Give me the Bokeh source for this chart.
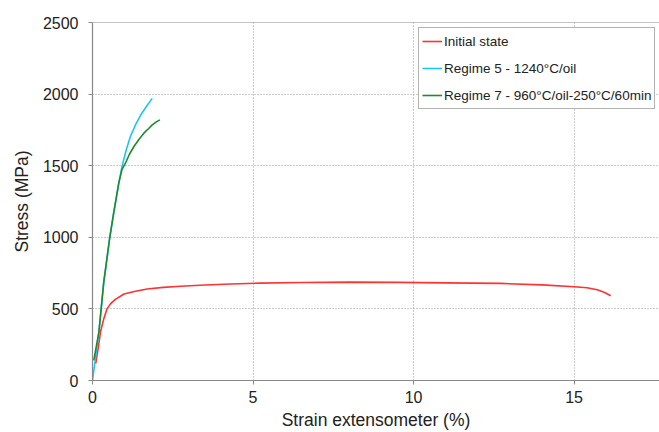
from bokeh.plotting import figure
from bokeh.models import Span, Legend, LegendItem, FixedTicker, Range1d
from bokeh.embed import file_html
from bokeh.resources import INLINE

# Initial state
red_x = [0.1, 0.18, 0.25, 0.35, 0.45, 0.56, 0.7, 0.98, 1.3, 1.7, 2.2, 2.74, 3.5, 4.3, 5.2,
         6.5, 8.0, 9.5, 11.0, 12.7, 14.0, 15.0, 15.4, 15.72, 15.95, 16.14]
red_y = [118, 230, 340, 430, 500, 535, 565, 604, 622, 639, 650, 658, 667, 674, 680,
         684, 687, 685, 682, 678, 668, 655, 648, 634, 615, 592]

# Regime 5 - 1240°C/oil
cyan_x = [0.0, 0.1, 0.2, 0.35, 0.54, 0.66, 0.82, 0.92, 1.05, 1.18, 1.35, 1.5, 1.7, 1.86]
cyan_y = [0, 170, 340, 685, 1002, 1171, 1380, 1495, 1610, 1704, 1790, 1854, 1920, 1970]

# Regime 7 - 960°C/oil-250°C/60min
green_x = [0.04, 0.2, 0.35, 0.54, 0.66, 0.82, 0.92, 1.03, 1.15, 1.29, 1.45, 1.6, 1.75, 1.86, 2.0, 2.1]
green_y = [141, 340, 685, 1002, 1171, 1380, 1475, 1519, 1580, 1634, 1685, 1727, 1760, 1785, 1808, 1820]

x_ticks = [0, 5, 10, 15]
y_ticks = [0, 500, 1000, 1500, 2000, 2500]
labels = ["Initial state", "Regime 5 - 1240°C/oil", "Regime 7 - 960°C/oil-250°C/60min"]
colors = ["#ff3333", "#19c8f0", "#1f8a2c"]

FONT = "Liberation Sans"

p = figure(width=659, height=432, output_backend="svg", toolbar_location=None,
           x_range=Range1d(0, 17.66), y_range=Range1d(0, 2500),
           min_border_left=92, min_border_right=0, min_border_top=22, min_border_bottom=50)
p.outline_line_color = None
p.background_fill_color = "white"

r1 = p.line(red_x, red_y, line_color=colors[0], line_width=1.6)
r2 = p.line(cyan_x, cyan_y, line_color=colors[1], line_width=1.6)
r3 = p.line(green_x, green_y, line_color=colors[2], line_width=1.6)

p.add_layout(Span(location=2500, dimension="width", line_color="#888888", line_width=1.2))

for ax, ticks in ((p.xaxis, x_ticks), (p.yaxis, y_ticks)):
    ax.ticker = FixedTicker(ticks=ticks)
    ax.minor_tick_line_color = None
    ax.axis_line_color = "#888888"
    ax.axis_line_width = 1.2
    ax.major_tick_line_color = "#888888"
    ax.major_tick_out = 4
    ax.major_tick_in = 0
    ax.major_label_text_font = FONT
    ax.major_label_text_font_size = "16px"
    ax.major_label_text_color = "#222222"
    ax.axis_label_text_font = FONT
    ax.axis_label_text_font_size = "17.5px"
    ax.axis_label_text_font_style = "normal"
    ax.axis_label_text_color = "#222222"

p.xaxis.axis_label = "Strain extensometer (%)"
p.yaxis.axis_label = "Stress (MPa)"
p.xaxis.major_label_standoff = 6
p.yaxis.major_label_standoff = 10
p.xaxis.axis_label_standoff = 4
p.yaxis.axis_label_standoff = 8

p.xgrid.ticker = FixedTicker(ticks=x_ticks)
p.ygrid.ticker = FixedTicker(ticks=y_ticks)
for g in (p.xgrid, p.ygrid):
    g.grid_line_color = "#999999"
    g.grid_line_dash = "1 2"
    g.grid_line_width = 1

legend = Legend(items=[LegendItem(label=labels[0], renderers=[r1]),
                       LegendItem(label=labels[1], renderers=[r2]),
                       LegendItem(label=labels[2], renderers=[r3])],
                location=(326, 271))
legend.border_line_color = "#666666"
legend.border_line_width = 1
legend.background_fill_alpha = 1
legend.label_text_font = FONT
legend.label_text_font_size = "13.5px"
legend.label_text_color = "#222222"
legend.glyph_width = 20
legend.glyph_height = 20
legend.label_height = 20
legend.label_standoff = 2
legend.spacing = 7
legend.padding = 3
legend.margin = 0
p.add_layout(legend)

open("out.html", "w").write(file_html(p, INLINE))
